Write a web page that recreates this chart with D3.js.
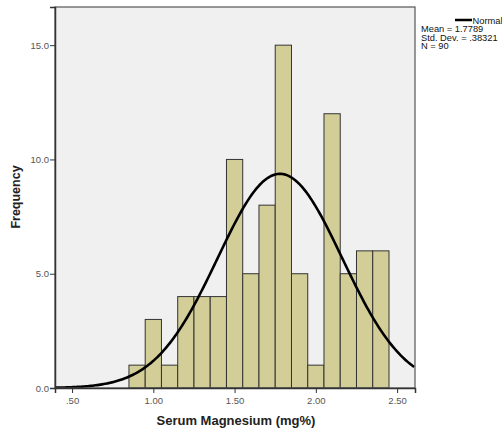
<!DOCTYPE html>
<html>
<head>
<meta charset="utf-8">
<script src="https://cdn.jsdelivr.net/npm/d3@7"></script>
<style>
  html, body { margin: 0; padding: 0; background: #fff; }
  svg { display: block; font-family: Arial, "Liberation Sans", sans-serif; }
</style>
</head>
<body>
<svg id="chart" width="502" height="432"></svg>
<script>
// ── DATA ───────────────────────────────────────────────────────────────────
// Histogram bins (width 0.1)
const binStarts = [0.85, 0.95, 1.05, 1.15, 1.25, 1.35, 1.45, 1.55, 1.65, 1.75, 1.85, 1.95, 2.05, 2.15, 2.25, 2.35];
const binCounts = [1, 3, 1, 4, 4, 4, 10, 5, 8, 15, 5, 1, 12, 5, 6, 6];
const BIN_WIDTH = 0.1;

// Fitted normal curve stats (from the legend)
const STAT_MEAN = 1.7789;
const STAT_SD   = 0.38321;
const STAT_N    = 90;

const xTicks = [0.5, 1.0, 1.5, 2.0, 2.5];
const yTicks = [0, 5, 10, 15];
const legendLines = ['Mean = 1.7789', 'Std. Dev. = .38321', 'N = 90'];

// ── LAYOUT ─────────────────────────────────────────────────────────────────
const plot = { left: 55, top: 7, right: 415, bottom: 388 };

const svg = d3.select('#chart');

const x = d3.scaleLinear().domain([0.395, 2.61]).range([plot.left, plot.right]);
const y = d3.scaleLinear().domain([0, 16.67]).range([plot.bottom, plot.top]);

// ── PLOT BACKGROUND ────────────────────────────────────────────────────────
svg.append('rect')
  .attr('x', plot.left).attr('y', plot.top)
  .attr('width', plot.right - plot.left).attr('height', plot.bottom - plot.top)
  .attr('fill', '#f0f0f0');

// ── BARS ───────────────────────────────────────────────────────────────────
svg.append('g')
  .selectAll('rect')
  .data(binStarts.map((s, i) => ({ start: s, count: binCounts[i] })))
  .enter().append('rect')
    .attr('x', d => x(d.start))
    .attr('y', d => y(d.count))
    .attr('width', d => x(d.start + BIN_WIDTH) - x(d.start))
    .attr('height', d => y(0) - y(d.count))
    .attr('fill', '#d3ce98')
    .attr('stroke', '#333')
    .attr('stroke-width', 1);

// ── NORMAL CURVE ───────────────────────────────────────────────────────────
const pdf = v => Math.exp(-0.5 * ((v - STAT_MEAN) / STAT_SD) ** 2) / (STAT_SD * Math.sqrt(2 * Math.PI));
const curvePts = d3.range(x.domain()[0], x.domain()[1] + 0.001, 0.01)
  .map(v => [v, STAT_N * BIN_WIDTH * pdf(v)]);

svg.append('path')
  .datum(curvePts)
  .attr('fill', 'none')
  .attr('stroke', '#000')
  .attr('stroke-width', 2.6)
  .attr('d', d3.line().x(d => x(d[0])).y(d => y(d[1])));

// ── FRAME ──────────────────────────────────────────────────────────────────
svg.append('rect')
  .attr('x', plot.left).attr('y', plot.top)
  .attr('width', plot.right - plot.left).attr('height', plot.bottom - plot.top)
  .attr('fill', 'none')
  .attr('stroke', '#555')
  .attr('stroke-width', 1.2);

// ── AXES ───────────────────────────────────────────────────────────────────
const xAxis = svg.append('g')
  .attr('transform', `translate(0,${plot.bottom})`)
  .call(d3.axisBottom(x).tickValues(xTicks).tickSize(5).tickPadding(4)
    .tickFormat(d => d3.format('.2f')(d).replace(/^0/, '')));

const yAxis = svg.append('g')
  .attr('transform', `translate(${plot.left},0)`)
  .call(d3.axisLeft(y).tickValues(yTicks).tickSize(5).tickPadding(1)
    .tickFormat(d3.format('.1f')));

[xAxis, yAxis].forEach(a => {
  a.select('.domain').attr('stroke', '#333').attr('stroke-width', 1.5);
  a.selectAll('.tick line').attr('stroke', '#333');
  a.selectAll('.tick text')
    .attr('fill', '#555')
    .style('font-family', 'Arial, "Liberation Sans", sans-serif')
    .style('font-size', '9.5px');
});

// ── AXIS TITLES ────────────────────────────────────────────────────────────
svg.append('text')
  .attr('x', 236).attr('y', 425)
  .attr('text-anchor', 'middle')
  .attr('font-weight', 'bold').attr('font-size', 13)
  .attr('fill', '#222')
  .text('Serum Magnesium (mg%)');

svg.append('text')
  .attr('transform', 'translate(20,197) rotate(-90)')
  .attr('text-anchor', 'middle')
  .attr('font-weight', 'bold').attr('font-size', 12.5)
  .attr('fill', '#222')
  .text('Frequency');

// ── LEGEND ─────────────────────────────────────────────────────────────────
const legend = svg.append('g').attr('font-size', 9.3).attr('fill', '#111');

legend.append('line')
  .attr('x1', 455).attr('x2', 472)
  .attr('y1', 20).attr('y2', 20)
  .attr('stroke', '#000').attr('stroke-width', 2.5);

legend.append('text').attr('x', 472.5).attr('y', 23.5).text('Normal');

legend.selectAll('text.stat')
  .data(legendLines)
  .enter().append('text')
    .attr('class', 'stat')
    .attr('x', 421)
    .attr('y', (d, i) => 32 + i * 8.5)
    .text(d => d);
</script>
</body>
</html>
